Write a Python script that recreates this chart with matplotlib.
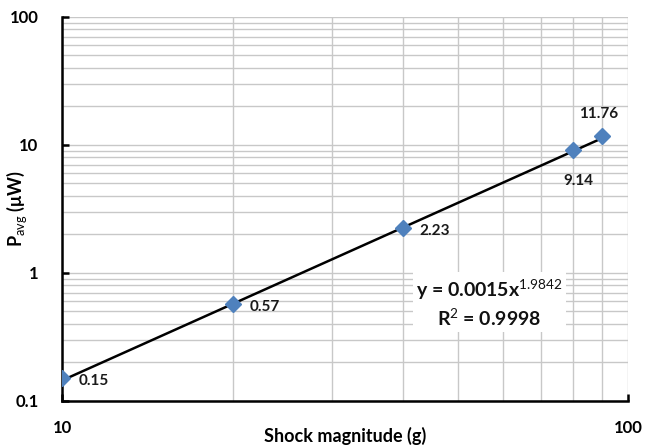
import numpy as np
import matplotlib
matplotlib.use("Agg")
import matplotlib.pyplot as plt
from matplotlib.ticker import FixedLocator, NullFormatter

# data
shock_g = [10, 20, 40, 80, 90]
p_avg = [0.15, 0.57, 2.23, 9.14, 11.76]
point_labels = ["0.15", "0.57", "2.23", "9.14", "11.76"]
fit_a = 0.0015
fit_b = 1.9842
y_ticks = [0.1, 1, 10, 100]
y_ticklabels = ["0.1", "1", "10", "100"]
x_ticks = [10, 100]
x_ticklabels = ["10", "100"]

plt.rcParams['font.family'] = ['Lato', 'DejaVu Sans']
plt.rcParams['mathtext.fontset'] = 'custom'
plt.rcParams['mathtext.rm'] = 'Lato'
plt.rcParams['mathtext.bf'] = 'Lato:bold'

fig = plt.figure(figsize=(6.47, 4.46), dpi=100)
ax = fig.add_axes([0.096, 0.101, 0.875, 0.861])

ax.set_xscale("log")
ax.set_yscale("log")
ax.set_xlim(10, 100)
ax.set_ylim(0.1, 100)

# gridlines like excel (major + minor)
ax.grid(True, which="both", color="#c8c8c8", linewidth=1.0)
ax.set_axisbelow(True)

# trendline
xs = np.logspace(np.log10(shock_g[0]), np.log10(shock_g[-1]), 50)
ax.plot(xs, fit_a * xs ** fit_b, color="black", linewidth=1.8, zorder=3)

ax.plot(shock_g, p_avg, linestyle="none", marker="D", markersize=8,
        color="#4f81bd", zorder=4)

# data labels
offsets = [(12, -2), (12, -2), (12, -2), (-7, -22), (-17, 16)]
for x, y, lab, off in zip(shock_g, p_avg, point_labels, offsets):
    ax.annotate(lab, (x, y), xytext=off, textcoords="offset points",
                ha="left", va="center",
                fontsize=11, fontweight="bold", color="#1a1a1a")

# equation
ax.text(0.755, 0.255, r"y = 0.0015x$^{\mathrm{1.9842}}$" + "\n" + r"R$^{\mathrm{2}}$ = 0.9998",
        transform=ax.transAxes, ha="center", va="center", fontsize=14,
        fontweight="bold", linespacing=1.25, color="#111111",
        bbox=dict(facecolor="white", edgecolor="none", pad=2))

ax.yaxis.set_major_locator(FixedLocator(y_ticks))
ax.set_yticklabels(y_ticklabels)
ax.xaxis.set_major_locator(FixedLocator(x_ticks))
ax.set_xticklabels(x_ticklabels)
ax.yaxis.set_minor_formatter(NullFormatter())
ax.xaxis.set_minor_formatter(NullFormatter())
ax.tick_params(which="minor", length=0)
ax.tick_params(axis="y", which="major", length=5, width=1.8, direction="in",
               labelsize=12, pad=17)
ax.tick_params(axis="x", which="major", length=5, width=1.8, direction="in",
               labelsize=12, pad=14)
for lab in ax.get_xticklabels() + ax.get_yticklabels():
    lab.set_fontweight("bold")

for side in ["top", "right"]:
    ax.spines[side].set_visible(False)
for side in ["left", "bottom"]:
    ax.spines[side].set_linewidth(1.8)

ax.set_xlabel("Shock magnitude (g)", fontsize=13, fontweight="bold")
ax.xaxis.set_label_coords(0.5, -0.068)
ax.set_ylabel(r"P$_{\mathrm{avg}}$ (μW)", fontsize=13, fontweight="bold")
ax.yaxis.set_label_coords(-0.058, 0.5)

fig.savefig("out.png", dpi=100)
